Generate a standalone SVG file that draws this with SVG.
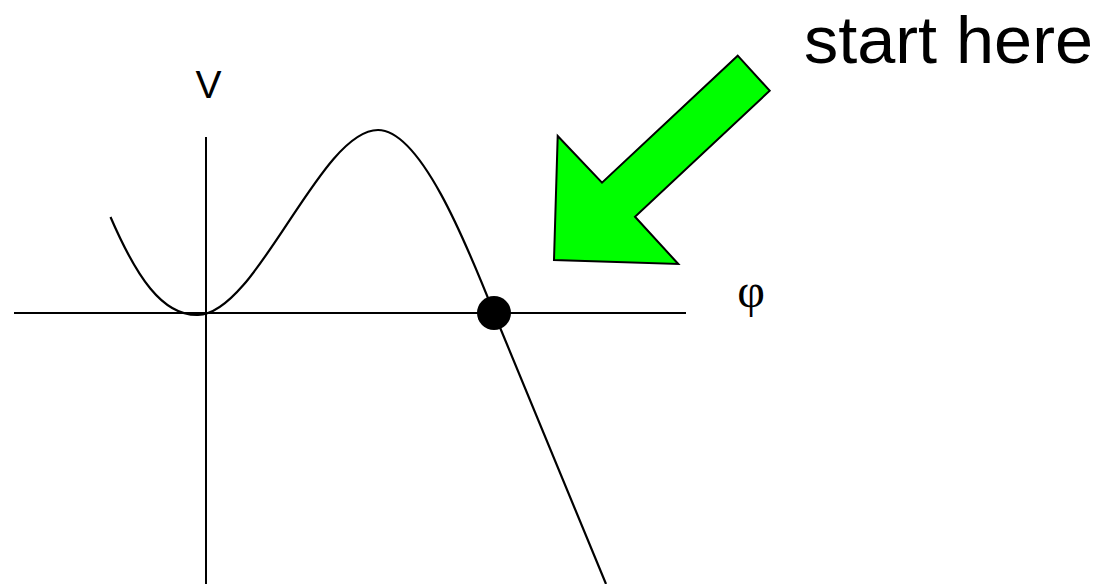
<svg xmlns="http://www.w3.org/2000/svg" width="1104" height="584" viewBox="0 0 1104 584">
<style>
.ax{stroke:#000;stroke-width:2;fill:none}
.cv{stroke:#000;stroke-width:2.2;fill:none;stroke-linejoin:round}
.lbl{font-family:"Liberation Sans",Arial,sans-serif;fill:#000}
</style>
<rect width="1104" height="584" fill="#fff"/>
<g id="axes">
<line class="ax" x1="14" y1="313" x2="686" y2="313"/>
<line class="ax" x1="206" y1="137" x2="206" y2="584"/>
</g>
<g id="curve">
<path class="cv" d="M110.5,217 C136,276 162,316 198,315 C257,314 320,130 378,130 C420,130 465,240 494,313 L606,584"/>
</g>
<g id="point">
<circle cx="494" cy="313" r="17" fill="#000"/>
</g>
<g id="arrow">
<polygon points="737.7,55.7 769.7,90.7 635,216.7 678.3,264 554,260 557.7,136 602,182.7" fill="#00ff00" stroke="#000" stroke-width="2" stroke-linejoin="miter"/>
</g>
<g id="labels">
<text class="lbl" x="208.5" y="98" font-size="39" text-anchor="middle">V</text>
<text x="751" y="307" font-family="Liberation Serif,serif" font-size="48" text-anchor="middle">φ</text>
<text class="lbl" x="804" y="62.7" font-size="67" textLength="289" lengthAdjust="spacingAndGlyphs">start here</text>
</g>
</svg>
